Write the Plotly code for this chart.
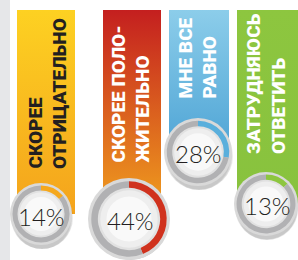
import plotly.graph_objects as go

# ---- data ----
categories = [["СКОРЕЕ", "ОТРИЦАТЕЛЬНО"], ["СКОРЕЕ ПОЛО-", "ЖИТЕЛЬНО"],
              ["МНЕ ВСЕ", "РАВНО"], ["ЗАТРУДНЯЮСЬ", "ОТВЕТИТЬ"]]
percent = [14, 44, 28, 13]
pct_labels = ["14%", "44%", "28%", "13%"]

# ---- layout / style ----
W, H = 298, 260
banner_x = [(17, 75), (103, 161), (169, 229), (237, 299)]
banner_bottom = [214, 219, 152, 204]
banner_top = 10
grad = [("#fdd122", "#f4a31c"), ("#c41f1f", "#f2a41e"), ("#8ccdea", "#4ea4d5"), ("#8dc63f", "#88c23e")]
text_color = ["#231f20", "white", "white", "white"]
line_x = [(34.5, 59.5), (118, 142), (185, 208.5), (253.5, 278)]
text_bottom = [170, 164, 100, 155]
donut = [(41, 214, 31), (129, 219, 41), (198, 152, 34), (266, 204, 32)]
ring_color = ["#f5a81d", "#d0321e", "#5aafdc", "#8dc63f"]
pct_pos = [(41, 216), (130, 220), (198, 153), (267, 205)]

fig = go.Figure()

# left gray strip
fig.add_shape(type="rect", xref="x", yref="y", x0=0, x1=10, y0=0, y1=H,
              fillcolor="#e6e7e9", line_width=0, layer="below")

# banners with vertical gradient
for i, (x0, x1) in enumerate(banner_x):
    y0, y1 = banner_top, banner_bottom[i]
    fig.add_trace(go.Scatter(
        x=[x0, x1, x1, x0, x0], y=[y0, y0, y1, y1, y0],
        mode="lines", line=dict(width=0), fill="toself",
        fillgradient=dict(type="vertical", start=y0, stop=y1,
                          colorscale=[[0, grad[i][0]], [1, grad[i][1]]]),
        hoverinfo="skip", showlegend=False))
    for j, line in enumerate(categories[i]):
        fig.add_annotation(x=line_x[i][j], y=text_bottom[i], xref="x", yref="y",
                           text=line, showarrow=False, borderpad=0,
                           textangle=-90, xanchor="center", yanchor="bottom",
                           font=dict(family="Roboto", size=19, weight=900,
                                     color=text_color[i]))


def dom(cx, cy, r):
    return dict(x=[max(0, (cx - r) / W), min(1, (cx + r) / W)],
                y=[max(0, 1 - (cy + r) / H), min(1, 1 - (cy - r) / H)])


def disc(cx, cy, r, col):
    return go.Pie(values=[1], marker=dict(colors=[col], line=dict(width=0)),
                  domain=dom(cx, cy, r), textinfo="none", hoverinfo="skip",
                  showlegend=False, sort=False)


for i, (cx, cy, r) in enumerate(donut):
    # soft shadow
    for k, f in enumerate([1.0, 0.97, 0.93]):
        fig.add_trace(disc(cx + 1, cy + 4 + k, r * f, "rgba(60,60,60,0.10)"))
    # outer rim + inner disc layers
    for f, col in [(1.0, "#d9d9d9"), (0.76, "#e1e1e1"), (0.70, "#eeeeee"), (0.55, "#f9f9f9")]:
        fig.add_trace(disc(cx, cy, r * f, col))
    # data ring
    fig.add_trace(go.Pie(values=[percent[i], 100 - percent[i]],
                         marker=dict(colors=[ring_color[i], "#b1b1b3"], line=dict(width=0)),
                         domain=dom(cx, cy, r * 0.92), hole=0.76 / 0.92,
                         direction="clockwise", rotation=0, sort=False,
                         textinfo="none", hoverinfo="skip", showlegend=False))
    fig.add_annotation(x=pct_pos[i][0], y=pct_pos[i][1], xref="x", yref="y",
                       text=pct_labels[i], showarrow=False,
                       font=dict(family="Lato", size=24, color="#231f20", weight=300))

fig.update_layout(
    width=W, height=H, margin=dict(l=0, r=0, t=0, b=0),
    paper_bgcolor="white", plot_bgcolor="white",
    xaxis=dict(range=[0, W], visible=False, fixedrange=True),
    yaxis=dict(range=[H, 0], visible=False, fixedrange=True),
)

fig.write_html("out.html", config={"displayModeBar": False},
               post_script="document.body.style.margin='0';")
